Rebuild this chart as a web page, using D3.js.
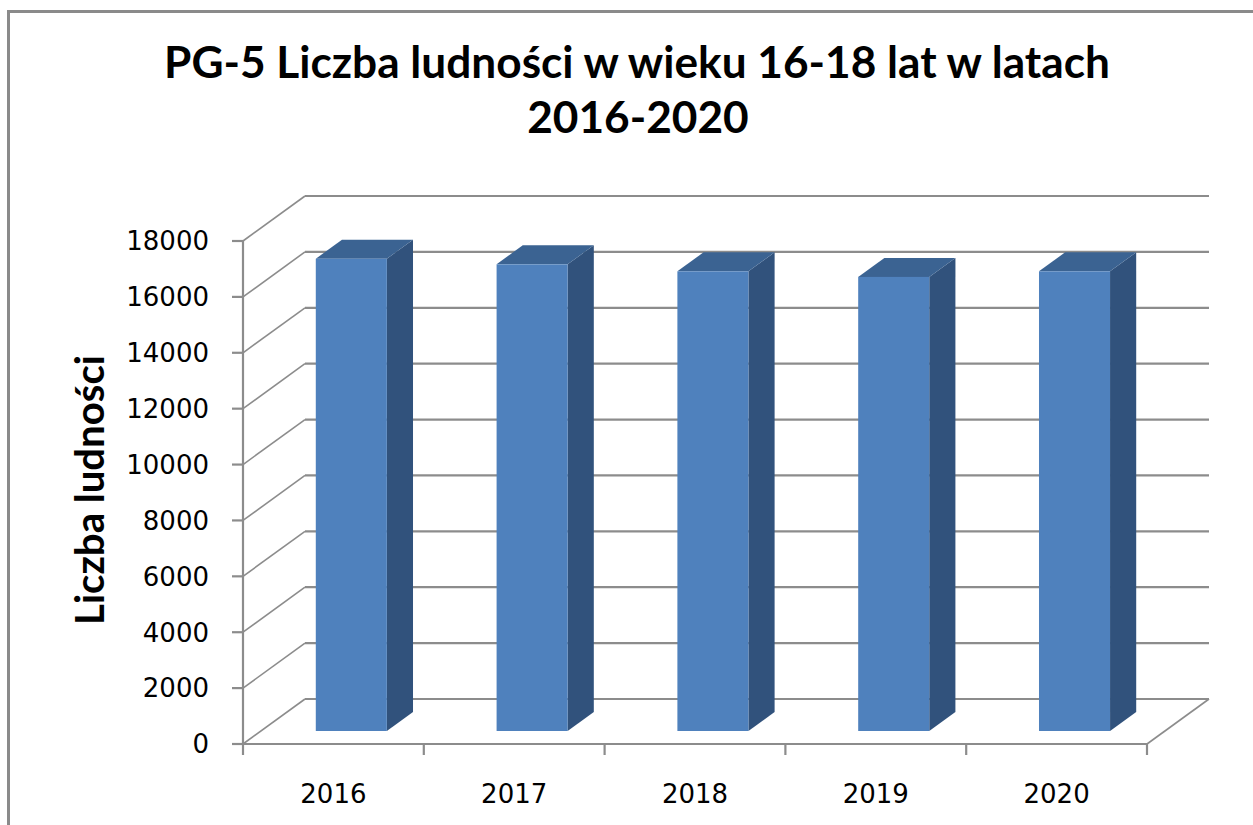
<!DOCTYPE html>
<html>
<head>
<meta charset="utf-8">
<script src="https://cdn.jsdelivr.net/npm/d3@7"></script>
<style>
  html, body { margin: 0; padding: 0; background: #fff; }
  svg { display: block; }
</style>
</head>
<body>
<svg id="chart" width="1253" height="825"></svg>
<script>
const titleLines = ["PG-5 Liczba ludności w wieku 16-18 lat w latach", "2016-2020"];
const yAxisTitle = "Liczba ludności";
const categories = ["2016", "2017", "2018", "2019", "2020"];
const values = [16900, 16700, 16450, 16250, 16450];
const yTicks = [0, 2000, 4000, 6000, 8000, 10000, 12000, 14000, 16000, 18000];

const svg = d3.select("#chart");

// frame
svg.append("rect").attr("x", 8.5).attr("y", 11.5).attr("width", 1300).attr("height", 900)
  .attr("fill", "#fff").attr("stroke", "#8a8a8a").attr("stroke-width", 3);

// geometry
const DX = 62, DY = -45;
const x = d3.scaleBand().domain(categories).range([243, 1147]).paddingInner(0).paddingOuter(0);
const y = d3.scaleLinear().domain([0, 18000]).range([744, 241]);
const P = (px, v, t) => [px + t * DX, y(v) + t * DY];
const gridColor = "#8c8c8c";

const g = svg.append("g");

// back wall gridlines
g.selectAll("line.grid").data(yTicks).join("line")
  .attr("x1", 243 + DX).attr("x2", 1147 + DX)
  .attr("y1", d => y(d) + DY).attr("y2", d => y(d) + DY)
  .attr("stroke", gridColor).attr("stroke-width", 2.2);

// side wall diagonals
g.selectAll("line.diag").data(yTicks).join("line")
  .attr("x1", 243).attr("y1", d => y(d))
  .attr("x2", 243 + DX).attr("y2", d => y(d) + DY)
  .attr("stroke", gridColor).attr("stroke-width", 1.6);

// floor right edge
g.append("line").attr("x1", 1147).attr("y1", y(0)).attr("x2", 1147 + DX).attr("y2", y(0) + DY)
  .attr("stroke", gridColor).attr("stroke-width", 1.6);

// front axes
g.append("line").attr("x1", 243).attr("x2", 1147).attr("y1", y(0)).attr("y2", y(0))
  .attr("stroke", gridColor).attr("stroke-width", 2.2);
g.append("line").attr("x1", 243).attr("x2", 243).attr("y1", y(18000)).attr("y2", y(0))
  .attr("stroke", gridColor).attr("stroke-width", 2.2);

// y ticks
g.selectAll("line.ytick").data(yTicks).join("line")
  .attr("x1", 232).attr("x2", 243).attr("y1", d => y(d)).attr("y2", d => y(d))
  .attr("stroke", gridColor).attr("stroke-width", 2.2);
g.selectAll("text.ylab").data(yTicks).join("text")
  .attr("x", 209).attr("y", d => y(d)).attr("dy", "0.36em")
  .attr("text-anchor", "end")
  .attr("font-family", "DejaVu Sans").attr("font-size", 26).attr("fill", "#000")
  .text(d => d);

// x ticks
const xBounds = categories.map(c => x(c)).concat([x(categories[categories.length - 1]) + x.bandwidth()]);
g.selectAll("line.xtick").data(xBounds).join("line")
  .attr("x1", d => d).attr("x2", d => d).attr("y1", y(0)).attr("y2", y(0) + 11)
  .attr("stroke", gridColor).attr("stroke-width", 2.2);
g.selectAll("text.xlab").data(categories).join("text")
  .attr("x", d => x(d) + x.bandwidth() / 2).attr("y", 794).attr("dy", "0.36em")
  .attr("text-anchor", "middle")
  .attr("font-family", "DejaVu Sans").attr("font-size", 26).attr("fill", "#000")
  .text(d => d);

// bars
const t1 = 0.289, t2 = 0.711;
const bw = x.bandwidth() * 0.393;
const bars = g.selectAll("g.bar").data(categories.map((c, i) => ({ c, v: values[i] }))).join("g");
const poly = pts => pts.map(p => p.join(",")).join(" ");
bars.each(function (d) {
  const cx = x(d.c) + x.bandwidth() / 2;
  const xl = cx - bw / 2, xr = cx + bw / 2;
  const sel = d3.select(this);
  // side
  sel.append("polygon").attr("points", poly([P(xr, d.v, t1), P(xr, d.v, t2), P(xr, 0, t2), P(xr, 0, t1)]))
    .attr("fill", "#31527c");
  // top
  sel.append("polygon").attr("points", poly([P(xl, d.v, t1), P(xr, d.v, t1), P(xr, d.v, t2), P(xl, d.v, t2)]))
    .attr("fill", "#3b6392");
  // front
  const [fx, fy] = P(xl, d.v, t1);
  const [, fb] = P(xl, 0, t1);
  sel.append("rect").attr("x", fx).attr("y", fy).attr("width", bw).attr("height", fb - fy)
    .attr("fill", "#4f81bd");
});

// title
const fitText = (sel, target) => {
  const w = sel.node().getComputedTextLength();
  const fs = parseFloat(sel.attr("font-size"));
  sel.attr("font-size", fs * target / w);
};
const t1Text = svg.append("text").attr("x", 637).attr("y", 78).attr("text-anchor", "middle")
  .attr("font-family", "Lato").attr("font-weight", "bold").attr("font-size", 42).attr("fill", "#000")
  .text(titleLines[0]);
fitText(t1Text, 946);
const fsTitle = t1Text.attr("font-size");
svg.append("text").attr("x", 638).attr("y", 133).attr("text-anchor", "middle")
  .attr("font-family", "Lato").attr("font-weight", "bold").attr("font-size", fsTitle).attr("fill", "#000")
  .text(titleLines[1]);

// y axis title
const yt = svg.append("text").attr("transform", "translate(104,490) rotate(-90)")
  .attr("text-anchor", "middle")
  .attr("font-family", "Lato").attr("font-weight", "bold").attr("font-size", 32).attr("fill", "#000")
  .text(yAxisTitle);
fitText(yt, 270);
</script>
</body>
</html>
